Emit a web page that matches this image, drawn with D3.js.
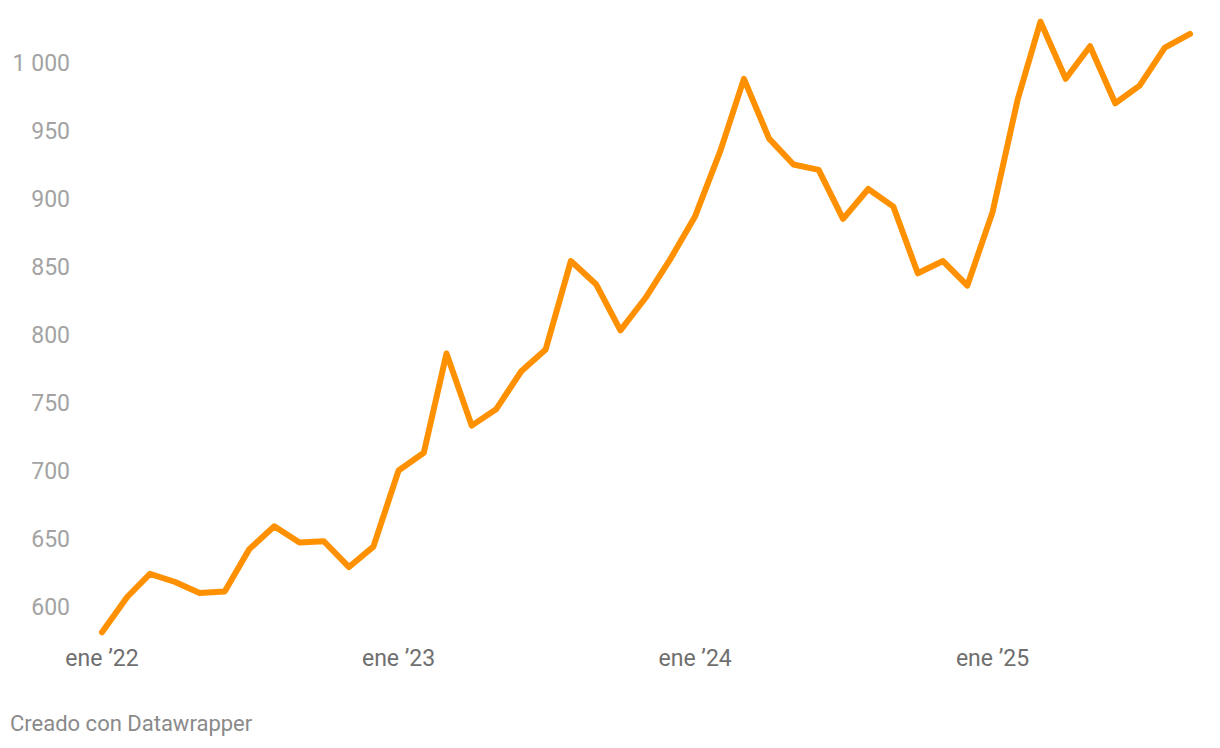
<!DOCTYPE html>
<html>
<head>
<meta charset="utf-8">
<script src="https://cdn.jsdelivr.net/npm/d3@7"></script>
<style>
  body { margin: 0; background: #fff; font-family: Roboto, "Noto Sans", sans-serif; }
</style>
</head>
<body>
<div id="chart"></div>
<script>
// Monthly values, Jan 2022 - Sep 2025
const months = [
  "2022-01","2022-02","2022-03","2022-04","2022-05","2022-06","2022-07","2022-08","2022-09","2022-10","2022-11","2022-12",
  "2023-01","2023-02","2023-03","2023-04","2023-05","2023-06","2023-07","2023-08","2023-09","2023-10","2023-11","2023-12",
  "2024-01","2024-02","2024-03","2024-04","2024-05","2024-06","2024-07","2024-08","2024-09","2024-10","2024-11","2024-12",
  "2025-01","2025-02","2025-03","2025-04","2025-05","2025-06","2025-07","2025-08","2025-09"
];
const values = [
  581, 607, 624, 618, 610, 611, 642, 659, 647, 648, 629, 644,
  700, 713, 786, 733, 745, 773, 789, 854, 837, 803, 827, 855,
  887, 935, 988, 944, 925, 921, 885, 907, 894, 845, 854, 836,
  890, 973, 1030, 988, 1012, 970, 983, 1011, 1021
];
const yTicks = [600, 650, 700, 750, 800, 850, 900, 950, 1000];
const xTicks = ["2022-01", "2023-01", "2024-01", "2025-01"];

const width = 1220, height = 748;
const parse = d3.timeParse("%Y-%m");
const data = months.map((m, i) => ({ date: parse(m), value: values[i] }));

const svg = d3.select("#chart")
  .append("svg")
  .attr("width", width)
  .attr("height", height);

const x = d3.scaleTime()
  .domain([parse(months[0]), parse(months[months.length - 1])])
  .range([102, 1190]);

const y = d3.scaleLinear()
  .domain([600, 1000])
  .range([606.5, 62.5]);

const fmt = d3.formatLocale({ decimal: ",", thousands: " ", grouping: [3], currency: ["", "€"] }).format(",d");

// y axis labels
svg.append("g")
  .selectAll("text")
  .data(yTicks)
  .enter().append("text")
  .attr("x", 70)
  .attr("y", d => y(d))
  .attr("dy", "0.35em")
  .attr("text-anchor", "end")
  .attr("fill", "#a3a3a3")
  .style("font-size", "23px")
  .text(d => fmt(d));

// x axis labels
const shortYear = d3.timeFormat("%y");
svg.append("g")
  .selectAll("text")
  .data(xTicks.map(parse))
  .enter().append("text")
  .attr("x", d => x(d))
  .attr("y", 666)
  .attr("text-anchor", "middle")
  .attr("fill", "#6f6f6f")
  .style("font-size", "23px")
  .text(d => "ene \u2019" + shortYear(d));

// line
const line = d3.line()
  .x(d => x(d.date))
  .y(d => y(d.value));

svg.append("path")
  .datum(data)
  .attr("d", line)
  .attr("fill", "none")
  .attr("stroke", "#ff9000")
  .attr("stroke-width", 6)
  .attr("stroke-linejoin", "round")
  .attr("stroke-linecap", "round");

// footer
svg.append("text")
  .attr("x", 10)
  .attr("y", 731)
  .attr("fill", "#8a8a8a")
  .style("font-size", "22px")
  .text("Creado con Datawrapper");
</script>
</body>
</html>
